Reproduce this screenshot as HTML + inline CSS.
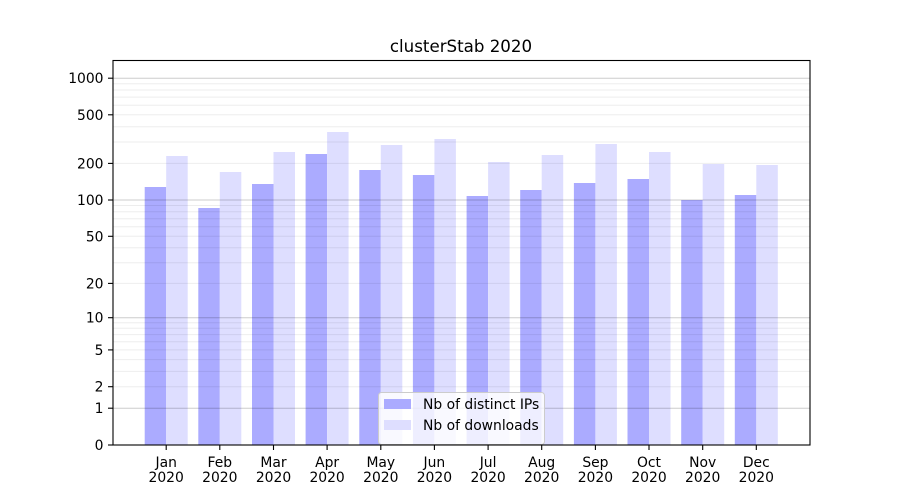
<!DOCTYPE html>
<html><head><meta charset="utf-8"><style>
html,body{margin:0;padding:0;background:#fff;}
svg{display:block;}
text{font-family:"DejaVu Sans","Liberation Sans",sans-serif;fill:#000;}
</style></head><body>
<svg width="900" height="500" viewBox="0 0 900 500" xmlns="http://www.w3.org/2000/svg">
<rect width="900" height="500" fill="#fff"/>
<text x="461" y="52" font-size="16.67" text-anchor="middle">clusterStab 2020</text>
<!-- bars -->
<g>
<rect x="144.7" y="187" width="21.5" height="258" fill="#ababff"/><rect x="166.2" y="156" width="21.5" height="289" fill="#dedeff"/>
<rect x="198.3" y="208" width="21.5" height="237" fill="#ababff"/><rect x="219.8" y="172" width="21.5" height="273" fill="#dedeff"/>
<rect x="252.0" y="184" width="21.5" height="261" fill="#ababff"/><rect x="273.5" y="152" width="21.5" height="293" fill="#dedeff"/>
<rect x="305.6" y="154" width="21.5" height="291" fill="#ababff"/><rect x="327.1" y="132" width="21.5" height="313" fill="#dedeff"/>
<rect x="359.3" y="170" width="21.5" height="275" fill="#ababff"/><rect x="380.8" y="145" width="21.5" height="300" fill="#dedeff"/>
<rect x="412.9" y="175" width="21.5" height="270" fill="#ababff"/><rect x="434.4" y="139" width="21.5" height="306" fill="#dedeff"/>
<rect x="466.6" y="196" width="21.5" height="249" fill="#ababff"/><rect x="488.1" y="162" width="21.5" height="283" fill="#dedeff"/>
<rect x="520.2" y="190" width="21.5" height="255" fill="#ababff"/><rect x="541.7" y="155" width="21.5" height="290" fill="#dedeff"/>
<rect x="573.9" y="183" width="21.5" height="262" fill="#ababff"/><rect x="595.4" y="144" width="21.5" height="301" fill="#dedeff"/>
<rect x="627.5" y="179" width="21.5" height="266" fill="#ababff"/><rect x="649.0" y="152" width="21.5" height="293" fill="#dedeff"/>
<rect x="681.2" y="200" width="21.5" height="245" fill="#ababff"/><rect x="702.7" y="164" width="21.5" height="281" fill="#dedeff"/>
<rect x="734.8" y="195" width="21.5" height="250" fill="#ababff"/><rect x="756.3" y="165" width="21.5" height="280" fill="#dedeff"/>
</g>
<!-- minor grid -->
<g stroke="#000" stroke-opacity="0.07" stroke-width="1">
<line x1="113" x2="810" y1="386.7" y2="386.7"/><line x1="113" x2="810" y1="371.4" y2="371.4"/>
<line x1="113" x2="810" y1="359.6" y2="359.6"/><line x1="113" x2="810" y1="349.9" y2="349.9"/>
<line x1="113" x2="810" y1="341.7" y2="341.7"/><line x1="113" x2="810" y1="334.6" y2="334.6"/>
<line x1="113" x2="810" y1="328.3" y2="328.3"/><line x1="113" x2="810" y1="322.8" y2="322.8"/>
<line x1="113" x2="810" y1="283.4" y2="283.4"/><line x1="113" x2="810" y1="262.7" y2="262.7"/>
<line x1="113" x2="810" y1="247.8" y2="247.8"/><line x1="113" x2="810" y1="236.3" y2="236.3"/>
<line x1="113" x2="810" y1="226.7" y2="226.7"/><line x1="113" x2="810" y1="218.7" y2="218.7"/>
<line x1="113" x2="810" y1="211.7" y2="211.7"/><line x1="113" x2="810" y1="205.5" y2="205.5"/>
<line x1="113" x2="810" y1="163.4" y2="163.4"/><line x1="113" x2="810" y1="142.0" y2="142.0"/>
<line x1="113" x2="810" y1="126.8" y2="126.8"/><line x1="113" x2="810" y1="114.8" y2="114.8"/>
<line x1="113" x2="810" y1="105.3" y2="105.3"/><line x1="113" x2="810" y1="97.1" y2="97.1"/>
<line x1="113" x2="810" y1="90.0" y2="90.0"/><line x1="113" x2="810" y1="83.8" y2="83.8"/>
</g>
<!-- major grid -->
<g stroke="#000" stroke-opacity="0.2" stroke-width="1">
<line x1="113" x2="810" y1="408.2" y2="408.2"/>
<line x1="113" x2="810" y1="317.7" y2="317.7"/>
<line x1="113" x2="810" y1="200.0" y2="200.0"/>
<line x1="113" x2="810" y1="78.2" y2="78.2"/>
</g>
<!-- legend -->
<rect x="378.5" y="392.5" width="166" height="52" rx="3" ry="3" fill="#fff" fill-opacity="0.8" stroke="#cccccc" stroke-width="1"/>
<rect x="384" y="399" width="27" height="10" fill="#ababff"/>
<rect x="384" y="420" width="27" height="10" fill="#dedeff"/>
<text x="423" y="409" font-size="13.89">Nb of distinct IPs</text>
<text x="423" y="430" font-size="13.89">Nb of downloads</text>
<!-- spines -->
<rect x="113" y="60.5" width="697" height="384.5" fill="none" stroke="#000" stroke-width="1.1"/>
<!-- y ticks -->
<g stroke="#000" stroke-width="1.1">
<line x1="108" x2="113" y1="445" y2="445"/><line x1="108" x2="113" y1="408.2" y2="408.2"/>
<line x1="108" x2="113" y1="386.7" y2="386.7"/><line x1="108" x2="113" y1="349.9" y2="349.9"/>
<line x1="108" x2="113" y1="317.7" y2="317.7"/><line x1="108" x2="113" y1="283.4" y2="283.4"/>
<line x1="108" x2="113" y1="236.3" y2="236.3"/><line x1="108" x2="113" y1="200.0" y2="200.0"/>
<line x1="108" x2="113" y1="163.4" y2="163.4"/><line x1="108" x2="113" y1="114.8" y2="114.8"/>
<line x1="108" x2="113" y1="78.2" y2="78.2"/>
</g>
<g font-size="13.89" text-anchor="end">
<text x="103.5" y="450">0</text>
<text x="103.5" y="413.2">1</text>
<text x="103.5" y="391.7">2</text>
<text x="103.5" y="354.9">5</text>
<text x="103.5" y="322.7">10</text>
<text x="103.5" y="288.4">20</text>
<text x="103.5" y="241.3">50</text>
<text x="103.5" y="205">100</text>
<text x="103.5" y="168.4">200</text>
<text x="103.5" y="119.8">500</text>
<text x="103.5" y="83.2">1000</text>
</g>
<!-- x ticks -->
<g stroke="#000" stroke-width="1.1">
<line x1="166.2" x2="166.2" y1="445" y2="450"/><line x1="219.8" x2="219.8" y1="445" y2="450"/>
<line x1="273.5" x2="273.5" y1="445" y2="450"/><line x1="327.1" x2="327.1" y1="445" y2="450"/>
<line x1="380.8" x2="380.8" y1="445" y2="450"/><line x1="434.4" x2="434.4" y1="445" y2="450"/>
<line x1="488.1" x2="488.1" y1="445" y2="450"/><line x1="541.7" x2="541.7" y1="445" y2="450"/>
<line x1="595.4" x2="595.4" y1="445" y2="450"/><line x1="649.0" x2="649.0" y1="445" y2="450"/>
<line x1="702.7" x2="702.7" y1="445" y2="450"/><line x1="756.3" x2="756.3" y1="445" y2="450"/>
</g>
<g font-size="13.89" text-anchor="middle">
<text x="166.2" y="467">Jan</text><text x="166.2" y="482">2020</text>
<text x="219.8" y="467">Feb</text><text x="219.8" y="482">2020</text>
<text x="273.5" y="467">Mar</text><text x="273.5" y="482">2020</text>
<text x="327.1" y="467">Apr</text><text x="327.1" y="482">2020</text>
<text x="380.8" y="467">May</text><text x="380.8" y="482">2020</text>
<text x="434.4" y="467">Jun</text><text x="434.4" y="482">2020</text>
<text x="488.1" y="467">Jul</text><text x="488.1" y="482">2020</text>
<text x="541.7" y="467">Aug</text><text x="541.7" y="482">2020</text>
<text x="595.4" y="467">Sep</text><text x="595.4" y="482">2020</text>
<text x="649.0" y="467">Oct</text><text x="649.0" y="482">2020</text>
<text x="702.7" y="467">Nov</text><text x="702.7" y="482">2020</text>
<text x="756.3" y="467">Dec</text><text x="756.3" y="482">2020</text>
</g>
</svg>
</body></html>
